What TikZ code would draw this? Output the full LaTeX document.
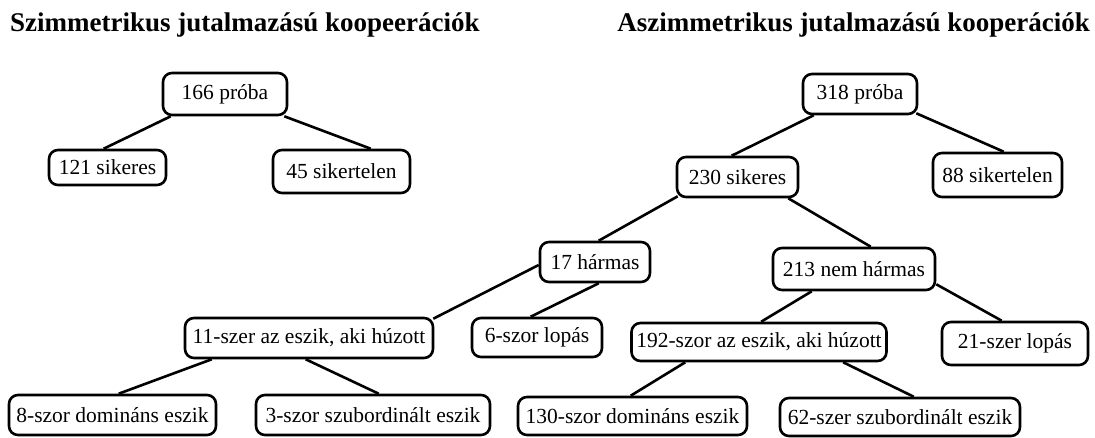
\documentclass[tikz,border=0pt]{standalone}
\usepackage{fontspec}
\setmainfont{Liberation Serif}
\begin{document}
\begin{tikzpicture}[x=1pt,y=-1pt,
  box/.style={draw=black,line width=2.6pt,rounded corners=9pt,inner sep=0pt,
    font=\fontsize{21.5}{25}\selectfont,align=center},
  ttl/.style={font=\fontsize{27}{32}\selectfont\bfseries,inner sep=0pt},
  link/.style={line width=2.6pt}]
\useasboundingbox[fill=white] (0,0) rectangle (1095,437);
% titles
\node[ttl,anchor=base west] (t1) at (10,31.5) {Szimmetrikus jutalmazású koopeerációk};
\node[ttl,anchor=base east] (t2) at (1090,31.5) {Aszimmetrikus jutalmazású kooperációk};
% left tree
\node[box,minimum width=124pt,minimum height=42pt] (p166) at (225,94) {166 próba};
\node[box,minimum width=117pt,minimum height=35pt] (s121) at (107.5,167.5) {121 sikeres};
\node[box,minimum width=137pt,minimum height=43pt] (f45) at (341.5,171.5) {45 sikertelen};
% right tree
\node[box,minimum width=114pt,minimum height=40pt] (p318) at (860,94) {318 próba};
\node[box,minimum width=129pt,minimum height=44pt] (f88) at (997.5,175) {88 sikertelen};
\node[box,minimum width=121pt,minimum height=40pt] (s230) at (737.5,177) {230 sikeres};
\node[box,minimum width=110pt,minimum height=40pt] (h17) at (595,262) {17 hármas};
\node[box,minimum width=162pt,minimum height=42pt] (n213) at (854,269) {213 nem hármas};
\node[box,minimum width=130pt,minimum height=39pt] (l6) at (537,337.5) {6-szor lopás};
\node[box,minimum width=248pt,minimum height=40pt] (e11) at (309,338) {11-szer az eszik, aki húzott};
\node[box,minimum width=255pt,minimum height=38pt] (e192) at (759,342) {192-szor az eszik, aki húzott};
\node[box,minimum width=146pt,minimum height=43pt] (l21) at (1015,343.5) {21-szer lopás};
\node[box,minimum width=207pt,minimum height=40pt] (d8) at (112.5,415) {8-szor domináns eszik};
\node[box,minimum width=234pt,minimum height=40pt] (u3) at (373,415) {3-szor szubordinált eszik};
\node[box,minimum width=229pt,minimum height=38pt] (d130) at (632.5,416) {130-szor domináns eszik};
\node[box,minimum width=240pt,minimum height=38pt] (u62) at (900,417) {62-szer szubordinált eszik};
% connectors
\draw[link] ([xshift=9pt]p166.south west) -- ([xshift=56pt]s121.north west);
\draw[link] ([xshift=-4pt]p166.south east) -- ([xshift=99pt]f45.north west);
\draw[link] ([xshift=12pt]p318.south west) -- ([xshift=56pt]s230.north west);
\draw[link] ([xshift=-2pt,yshift=2pt]p318.south east) -- ([xshift=72pt]f88.north west);
\draw[link] ([xshift=2pt,yshift=2pt]s230.south west) -- ([xshift=60pt]h17.north west);
\draw[link] ([xshift=-11pt]s230.south east) -- ([xshift=99pt]n213.north west);
\draw[link] ([yshift=-3pt]h17.west) -- ([xshift=-1pt,yshift=-2pt]e11.north east);
\draw[link] ([xshift=60pt]h17.south west) -- ([xshift=60pt]l6.north west);
\draw[link] ([xshift=40pt]n213.south west) -- ([xshift=131pt]e192.north west);
\draw[link] ([yshift=7pt]n213.south east) -- ([xshift=61pt]l21.north west);
\draw[link] ([xshift=28pt]e11.south west) -- ([xshift=111pt]d8.north west);
\draw[link] ([xshift=122pt]e11.south west) -- ([xshift=124pt]u3.north west);
\draw[link] ([xshift=55pt]e192.south west) -- ([xshift=114pt]d130.north west);
\draw[link] ([xshift=213pt]e192.south west) -- ([xshift=135pt]u62.north west);
\end{tikzpicture}
\end{document}
